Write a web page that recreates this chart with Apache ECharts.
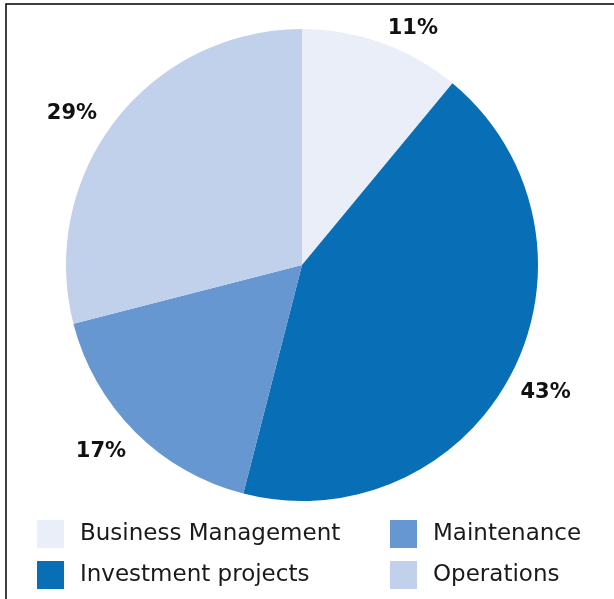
<!DOCTYPE html>
<html><head><meta charset="utf-8">
<script src="https://cdn.jsdelivr.net/npm/echarts@6/dist/echarts.min.js"></script>
<style>html,body{margin:0;padding:0;background:#fff}#c{width:614px;height:599px}</style>
</head><body><div id="c"></div>
<script>
const categories = ['Business Management', 'Investment projects', 'Maintenance', 'Operations'];
const values = [11, 43, 17, 29];
const colors = ['#E9EEF8', '#086EB6', '#6797D0', '#C1D1EB'];
const legendLeft = ['Business Management', 'Investment projects'];
const legendRight = ['Maintenance', 'Operations'];
const labelNudge = [[-5, 2], [-12, 13], [8, 8], [0, 4]];

const chart = echarts.init(document.getElementById('c'), null, {renderer: 'canvas'});
const legendBase = {
  orient: 'vertical', top: 515, itemWidth: 27, itemHeight: 28, itemGap: 13,
  icon: 'rect', selectedMode: false,
  textStyle: {fontFamily: 'DejaVu Sans', fontSize: 23, color: '#1a1a1a', padding: [0, 0, 0, 11]}
};
chart.setOption({
  animation: false,
  color: colors,
  graphic: [{
    type: 'rect', shape: {x: 6, y: 4, width: 700, height: 700},
    style: {fill: null, stroke: '#000', lineWidth: 1.5}, silent: true
  }],
  legend: [
    Object.assign({}, legendBase, {left: 32, data: legendLeft}),
    Object.assign({}, legendBase, {left: 385, data: legendRight})
  ],
  series: [{
    type: 'pie',
    center: [302, 265],
    radius: 236,
    startAngle: 90,
    clockwise: true,
    silent: true,
    avoidLabelOverlap: false,
    data: categories.map((c, i) => ({name: c, value: values[i]})),
    label: {
      show: true, position: 'outside',
      formatter: '{d}%',
      fontFamily: 'DejaVu Sans', fontWeight: 'bold', fontSize: 21, color: '#111'
    },
    labelLine: {show: false, length: 17, length2: 0},
    labelLayout: function (p) { return {dx: labelNudge[p.dataIndex][0], dy: labelNudge[p.dataIndex][1]}; }
  }]
});
</script></body></html>
